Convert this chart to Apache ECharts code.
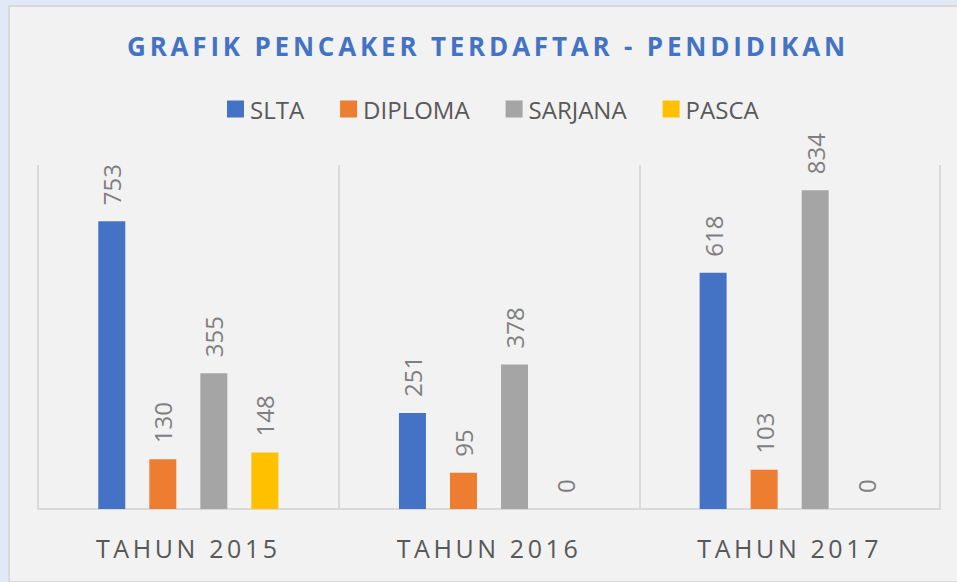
<!DOCTYPE html>
<html>
<head>
<meta charset="utf-8">
<script src="https://cdn.jsdelivr.net/npm/echarts@6/dist/echarts.min.js"></script>
<style>
  html, body { margin: 0; padding: 0; background: #dfeaf6; }
  #panel { position: absolute; left: 8px; top: 5px; width: 960px; height: 574px;
           background: #f2f2f2; border: 2px solid #d9d9d9; }
  #chart { position: absolute; left: 0; top: 0; width: 957px; height: 582px; }
  #chart text[fill="#4472c4"] { letter-spacing: 3.8px; }
  #chart text[fill="#585858"] { letter-spacing: 3.6px; }
</style>
</head>
<body>
<div id="panel"></div>
<div id="chart"></div>
<script>
const titleText = 'GRAFIK PENCAKER TERDAFTAR - PENDIDIKAN';
const categories = ['TAHUN 2015', 'TAHUN 2016', 'TAHUN 2017'];
const seriesNames = ['SLTA', 'DIPLOMA', 'SARJANA', 'PASCA'];
const sltaValues = [753, 251, 618];
const diplomaValues = [130, 95, 103];
const sarjanaValues = [355, 378, 834];
const pascaValues = [148, 0, 0];
const colors = ['#4472c4', '#ed7d31', '#a5a5a5', '#ffc000'];

const seriesValues = [sltaValues, diplomaValues, sarjanaValues, pascaValues];
const chart = echarts.init(document.getElementById('chart'), null, { renderer: 'svg' });
const font = '"Open Sans", sans-serif';
chart.setOption({
  animation: false,
  backgroundColor: 'transparent',
  title: {
    text: titleText, left: 122, top: 28,
    textStyle: { color: '#4472c4', fontSize: 26, fontWeight: 'bold', fontFamily: font }
  },
  legend: {
    data: seriesNames, top: 92, left: 222,
    itemWidth: 17, itemHeight: 17, itemGap: 36, icon: 'rect',
    textStyle: { color: '#595959', fontSize: 24, fontFamily: font, padding: [0, 0, 0, 1] }
  },
  grid: { left: 38, right: 17, top: 165, bottom: 73, containLabel: false },
  xAxis: {
    type: 'category', data: categories,
    axisLine: { lineStyle: { color: '#d9d9d9', width: 2 } },
    axisTick: { show: false },
    splitLine: { show: true, interval: 0, lineStyle: { color: '#d9d9d9', width: 2 } },
    axisLabel: { color: '#585858', fontSize: 25, fontFamily: font, margin: 26 }
  },
  yAxis: { type: 'value', min: 0, max: 900, show: false, splitLine: { show: false } },
  series: seriesNames.map((n, i) => ({
    name: n, type: 'bar', data: seriesValues[i],
    barWidth: 27, barGap: '89%',
    itemStyle: { color: colors[i] },
    label: {
      show: true, position: 'top', rotate: 90, distance: 16,
      align: 'left', verticalAlign: 'middle',
      color: '#7f7f7f', fontSize: 24, fontFamily: font
    }
  }))
});
</script>
</body>
</html>
